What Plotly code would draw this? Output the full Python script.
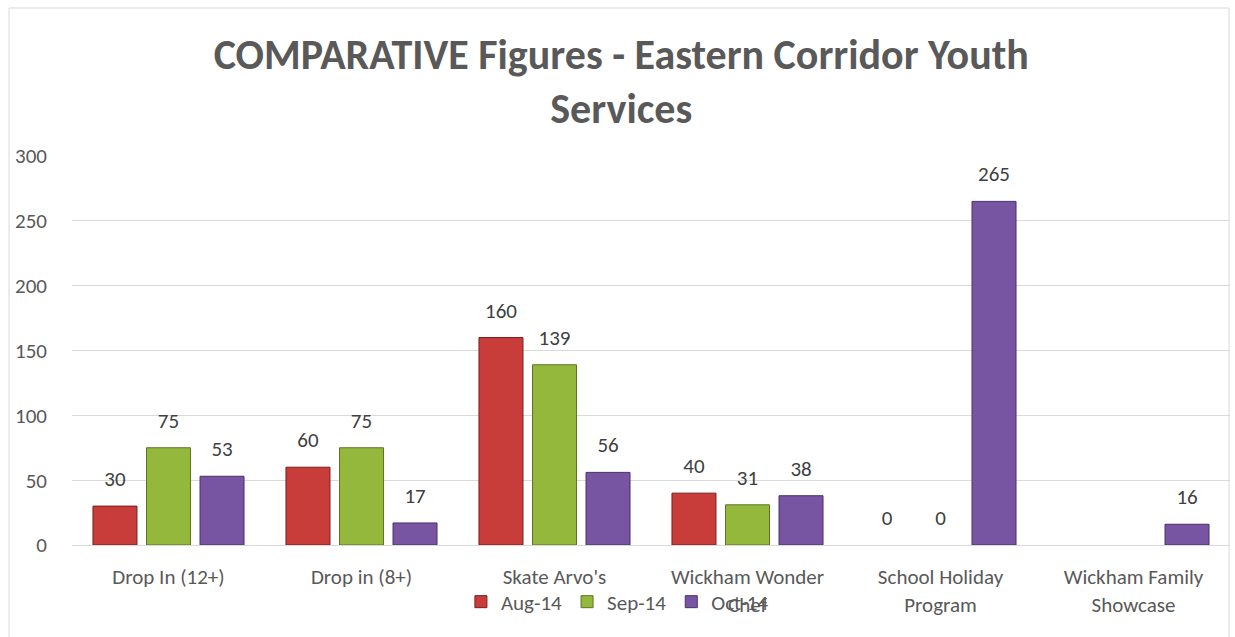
import plotly.graph_objects as go

categories = ["Drop In (12+)", "Drop in (8+)", "Skate Arvo's", "Wickham Wonder<br>Chef",
              "School Holiday<br>Program", "Wickham Family<br>Showcase"]
series_names = ["Aug-14", "Sep-14", "Oct-14"]
aug = [30, 60, 160, 40, 0, None]
sep = [75, 75, 139, 31, 0, None]
oct_ = [53, 17, 56, 38, 265, 16]
colors = ["#C83C3A", "#94B83C", "#7855A3"]
edges = ["#7A1E1A", "#5C7424", "#4A3066"]

FONT = "Calibri, Carlito, Lato, sans-serif"

fig = go.Figure()
for name, vals, c, e in zip(series_names, [aug, sep, oct_], colors, edges):
    fig.add_trace(go.Bar(x=categories, y=vals, name=name, offsetgroup=name,
                         marker=dict(color=c, line=dict(color=e,
                                     width=[1 if v else 0 for v in vals]))))
for name, vals in zip(series_names, [aug, sep, oct_]):
    fig.add_trace(go.Scatter(x=categories, y=vals, offsetgroup=name, mode="markers+text",
                             text=[("" if v is None else str(v)) for v in vals],
                             textposition="top center",
                             marker=dict(size=22, color="rgba(0,0,0,0)"),
                             textfont=dict(size=21, color="#404040", family=FONT),
                             showlegend=False, hoverinfo="skip", cliponaxis=False))

fig.update_layout(
    width=1235, height=637,
    margin=dict(l=72, r=5, t=156, b=92),
    paper_bgcolor="white", plot_bgcolor="white",
    font=dict(family=FONT, color="#595959", size=21),
    title=dict(text="<b>COMPARATIVE Figures - Eastern Corridor Youth<br>Services</b>",
               x=0.503, xanchor="center", y=0.892, yanchor="middle",
               font=dict(size=42, color="#595959", family=FONT)),
    barmode="group", bargap=0.168, bargroupgap=0.178,
    scattermode="group", scattergap=0.168,
    showlegend=True,
    legend=dict(orientation="h", x=0.471, xanchor="center", y=-0.1466, yanchor="middle",
                font=dict(size=21, color="#595959"), bgcolor="rgba(0,0,0,0)",
                itemwidth=30, tracegroupgap=0),
)
fig.update_yaxes(range=[0, 300], dtick=50, showgrid=True, gridcolor="#D9D9D9", gridwidth=1,
                 zeroline=False, showline=False, ticks="", ticklabelstandoff=24,
                 tickfont=dict(size=21, color="#595959"))
fig.update_xaxes(showgrid=False, showline=True, linecolor="#D9D9D9", linewidth=1, ticks="",
                 ticklabelstandoff=13, tickfont=dict(size=21, color="#595959"))
fig.add_shape(type="rect", xref="paper", yref="paper", x0=-0.0544, x1=0.9991, y0=-0.3, y1=1.3805,
              line=dict(color="#D9D9D9", width=1), layer="below")
fig.write_html("out.html", config={"displayModeBar": False},
               post_script="document.body.style.margin='0';")
